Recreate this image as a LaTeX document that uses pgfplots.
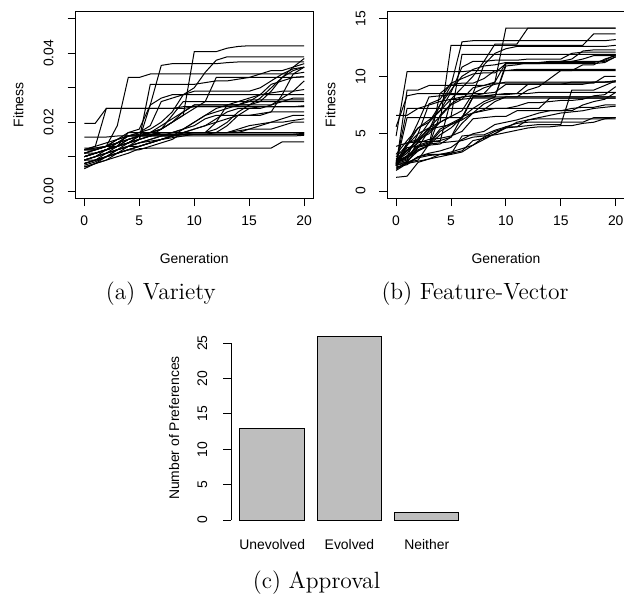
\documentclass[border=0pt]{standalone}
\usepackage{fontspec}
\newfontfamily\rfont{Liberation Sans}
\usepackage{pgfplots}
\usepackage{pgfplotstable}
\pgfplotsset{compat=1.18}
\definecolor{rgrey}{HTML}{BEBEBE}
\newcommand\rf{\rfont\fontsize{6.95}{8}\selectfont}

% fitness per generation, one row per run (Variety)
\pgfplotstableread{
s 0 1 2 3 4 5 6 7 8 9 10 11 12 13 14 15 16 17 18 19 20
a1 0.0120 0.0120 0.0130 0.0190 0.0330 0.0330 0.0340 0.0340 0.0340 0.0340 0.0340 0.0340 0.0340 0.0340 0.0340 0.0340 0.0340 0.0340 0.0340 0.0340 0.0345
a2 0.0100 0.0110 0.0120 0.0130 0.0140 0.0160 0.0170 0.0180 0.0200 0.0220 0.0405 0.0405 0.0405 0.0415 0.0420 0.0422 0.0422 0.0422 0.0422 0.0422 0.0422
a3 0.0110 0.0120 0.0130 0.0150 0.0170 0.0180 0.0250 0.0365 0.0370 0.0370 0.0370 0.0370 0.0370 0.0373 0.0375 0.0375 0.0375 0.0375 0.0375 0.0375 0.0375
a4 0.0090 0.0100 0.0120 0.0140 0.0160 0.0170 0.0180 0.0200 0.0230 0.0280 0.0300 0.0345 0.0380 0.0390 0.0390 0.0390 0.0390 0.0390 0.0390 0.0390 0.0390
a5 0.0080 0.0090 0.0110 0.0130 0.0150 0.0160 0.0165 0.0170 0.0170 0.0170 0.0170 0.0170 0.0180 0.0200 0.0230 0.0250 0.0270 0.0300 0.0330 0.0360 0.0385
a6 0.0120 0.0120 0.0130 0.0140 0.0160 0.0160 0.0160 0.0160 0.0170 0.0180 0.0200 0.0220 0.0240 0.0250 0.0250 0.0250 0.0260 0.0290 0.0330 0.0350 0.0360
a7 0.0197 0.0197 0.0240 0.0240 0.0240 0.0240 0.0240 0.0240 0.0240 0.0240 0.0245 0.0245 0.0245 0.0245 0.0245 0.0245 0.0245 0.0245 0.0245 0.0245 0.0245
a8 0.0120 0.0130 0.0240 0.0240 0.0240 0.0240 0.0240 0.0240 0.0240 0.0245 0.0245 0.0245 0.0245 0.0245 0.0245 0.0245 0.0245 0.0245 0.0245 0.0245 0.0248
a9 0.0157 0.0157 0.0157 0.0160 0.0160 0.0160 0.0160 0.0165 0.0165 0.0165 0.0165 0.0165 0.0165 0.0165 0.0165 0.0165 0.0165 0.0165 0.0165 0.0165 0.0165
a10 0.0065 0.0080 0.0090 0.0100 0.0110 0.0123 0.0125 0.0125 0.0125 0.0125 0.0125 0.0125 0.0125 0.0125 0.0125 0.0125 0.0125 0.0125 0.0143 0.0143 0.0143
a11 0.0070 0.0080 0.0090 0.0110 0.0120 0.0120 0.0130 0.0140 0.0150 0.0170 0.0170 0.0170 0.0170 0.0170 0.0170 0.0170 0.0170 0.0170 0.0170 0.0170 0.0170
a12 0.0080 0.0090 0.0100 0.0120 0.0130 0.0140 0.0150 0.0160 0.0160 0.0160 0.0160 0.0160 0.0160 0.0160 0.0160 0.0160 0.0160 0.0160 0.0160 0.0160 0.0162
a13 0.0100 0.0110 0.0120 0.0130 0.0150 0.0160 0.0165 0.0165 0.0165 0.0165 0.0170 0.0170 0.0170 0.0170 0.0180 0.0190 0.0195 0.0200 0.0200 0.0205 0.0210
a14 0.0090 0.0100 0.0110 0.0120 0.0130 0.0130 0.0140 0.0150 0.0160 0.0180 0.0200 0.0220 0.0230 0.0240 0.0250 0.0250 0.0250 0.0250 0.0260 0.0270 0.0270
a15 0.0110 0.0120 0.0130 0.0140 0.0150 0.0160 0.0170 0.0190 0.0210 0.0230 0.0250 0.0250 0.0250 0.0250 0.0250 0.0260 0.0280 0.0310 0.0320 0.0330 0.0332
a16 0.0100 0.0110 0.0120 0.0130 0.0140 0.0150 0.0160 0.0170 0.0170 0.0170 0.0170 0.0170 0.0200 0.0250 0.0260 0.0270 0.0280 0.0285 0.0290 0.0290 0.0295
a17 0.0120 0.0130 0.0140 0.0150 0.0160 0.0160 0.0170 0.0170 0.0170 0.0180 0.0190 0.0210 0.0220 0.0220 0.0220 0.0220 0.0225 0.0230 0.0230 0.0230 0.0230
a18 0.0080 0.0090 0.0100 0.0110 0.0120 0.0130 0.0140 0.0150 0.0155 0.0160 0.0165 0.0165 0.0170 0.0170 0.0170 0.0180 0.0190 0.0200 0.0210 0.0220 0.0220
a19 0.0110 0.0110 0.0120 0.0140 0.0160 0.0170 0.0190 0.0260 0.0270 0.0280 0.0290 0.0290 0.0290 0.0290 0.0290 0.0290 0.0300 0.0320 0.0340 0.0355 0.0360
a20 0.0090 0.0100 0.0110 0.0120 0.0140 0.0150 0.0160 0.0180 0.0200 0.0230 0.0250 0.0250 0.0250 0.0250 0.0250 0.0265 0.0265 0.0265 0.0265 0.0265 0.0265
a21 0.0100 0.0110 0.0120 0.0130 0.0170 0.0170 0.0170 0.0180 0.0220 0.0260 0.0260 0.0260 0.0260 0.0260 0.0260 0.0260 0.0260 0.0260 0.0260 0.0260 0.0260
a22 0.0075 0.0085 0.0100 0.0120 0.0130 0.0140 0.0150 0.0160 0.0160 0.0165 0.0165 0.0165 0.0165 0.0165 0.0165 0.0165 0.0165 0.0165 0.0165 0.0165 0.0165
a23 0.0120 0.0125 0.0130 0.0150 0.0160 0.0165 0.0170 0.0170 0.0170 0.0170 0.0170 0.0170 0.0170 0.0170 0.0175 0.0180 0.0180 0.0180 0.0190 0.0200 0.0200
a24 0.0090 0.0100 0.0110 0.0120 0.0130 0.0140 0.0145 0.0150 0.0160 0.0170 0.0170 0.0170 0.0170 0.0190 0.0220 0.0240 0.0245 0.0245 0.0245 0.0245 0.0245
a25 0.0110 0.0120 0.0130 0.0130 0.0140 0.0150 0.0250 0.0270 0.0280 0.0280 0.0280 0.0280 0.0280 0.0280 0.0280 0.0280 0.0280 0.0280 0.0280 0.0280 0.0280
a26 0.0100 0.0110 0.0120 0.0130 0.0140 0.0160 0.0170 0.0180 0.0200 0.0220 0.0240 0.0260 0.0330 0.0330 0.0330 0.0330 0.0330 0.0330 0.0330 0.0330 0.0332
a27 0.0080 0.0090 0.0100 0.0110 0.0120 0.0130 0.0140 0.0150 0.0160 0.0170 0.0180 0.0190 0.0200 0.0210 0.0220 0.0220 0.0220 0.0230 0.0280 0.0340 0.0360
a28 0.0125 0.0125 0.0130 0.0140 0.0150 0.0160 0.0160 0.0160 0.0160 0.0165 0.0165 0.0165 0.0165 0.0165 0.0165 0.0165 0.0165 0.0165 0.0165 0.0165 0.0168
a29 0.0070 0.0080 0.0100 0.0110 0.0120 0.0130 0.0140 0.0150 0.0160 0.0170 0.0180 0.0190 0.0210 0.0230 0.0240 0.0240 0.0240 0.0250 0.0270 0.0290 0.0320
a30 0.0100 0.0110 0.0120 0.0130 0.0140 0.0150 0.0160 0.0170 0.0170 0.0170 0.0170 0.0170 0.0170 0.0170 0.0170 0.0170 0.0170 0.0170 0.0170 0.0170 0.0170
a31 0.0090 0.0090 0.0100 0.0110 0.0130 0.0150 0.0310 0.0310 0.0310 0.0310 0.0310 0.0315 0.0320 0.0320 0.0325 0.0330 0.0340 0.0350 0.0350 0.0360 0.0370
}\rawA
\pgfplotstabletranspose[colnames from=s]{\tabA}{\rawA}

% fitness per generation, one row per run (Feature-Vector)
\pgfplotstableread{
s 0 1 2 3 4 5 6 7 8 9 10 11 12 13 14 15 16 17 18 19 20
b1 2.4 7.2 7.2 7.2 7.2 7.2 7.2 7.2 7.2 7.2 7.2 7.2 7.2 7.2 8.1 8.1 8.1 8.1 8.1 8.1 8.1
b2 2.3 6.4 6.4 6.4 6.4 6.4 6.4 8.2 8.2 8.2 8.2 8.2 8.2 8.2 8.2 8.2 8.2 8.2 8.2 8.2 8.2
b3 2.5 2.8 3.8 4.1 5.2 5.8 6.3 8.2 8.2 8.4 8.5 8.5 9.3 9.3 9.3 9.3 9.3 9.3 9.5 9.5 9.6
b4 2.6 3.0 3.9 4.2 5.4 5.9 6.4 8.2 8.2 8.2 11.1 11.1 11.1 11.1 11.1 11.1 11.1 11.1 11.1 11.2 11.7
b5 2.2 2.6 3.5 4.0 6.6 7.6 8.2 8.3 8.5 9.5 11.2 11.2 11.2 11.2 11.2 11.2 11.3 11.3 11.3 11.3 11.7
b6 4.8 10.4 10.4 10.4 10.4 10.4 10.4 10.5 10.5 10.5 10.5 10.5 10.5 10.5 10.5 10.5 10.5 10.5 10.5 10.5 10.5
b7 2.0 2.5 3.8 5.3 7.5 9.2 13.0 13.1 13.1 13.1 13.1 13.1 13.1 13.1 13.1 13.1 13.1 13.1 13.1 13.1 13.2
b8 2.4 2.7 4.3 5.2 6.0 12.7 12.7 12.7 12.7 12.7 12.7 12.7 12.7 12.7 12.7 12.7 12.7 12.7 13.7 13.7 13.7
b9 2.8 3.5 4.5 5.5 6.5 7.5 8.0 9.0 9.2 9.5 14.2 14.2 14.2 14.2 14.2 14.2 14.2 14.2 14.2 14.2 14.2
b10 2.6 4.0 5.5 6.0 7.0 8.0 9.0 10.0 11.3 12.8 12.8 12.8 14.2 14.2 14.2 14.2 14.2 14.2 14.2 14.2 14.2
b11 1.2 1.3 2.5 2.8 3.0 3.2 3.4 4.0 4.5 5.0 5.5 5.6 5.7 5.8 5.8 5.8 8.8 8.8 8.8 9.2 9.6
b12 1.8 2.4 2.6 2.8 3.2 3.3 3.5 4.4 4.6 5.0 5.6 5.9 6.0 6.0 6.0 6.0 6.0 6.0 6.4 6.4 6.4
b13 2.3 2.4 3.0 3.3 3.5 3.8 4.5 5.0 5.2 5.8 6.0 6.2 6.5 6.8 7.0 7.0 7.2 7.3 7.3 7.5 7.5
b14 2.5 3.5 4.2 4.5 4.6 4.8 5.2 6.3 6.4 6.5 6.5 7.0 7.0 7.0 7.0 7.0 7.0 7.5 7.8 8.0 8.6
b15 3.0 4.0 5.0 5.5 6.0 6.5 7.0 8.5 9.0 9.3 9.5 9.5 9.5 9.5 9.5 9.5 9.5 9.5 9.5 9.5 9.6
b16 5.6 8.3 8.5 8.5 8.5 8.5 8.5 8.5 8.5 8.6 9.3 9.3 9.3 9.3 9.3 9.3 9.5 9.5 9.5 9.5 9.5
b17 2.2 8.8 8.8 9.2 9.2 9.2 9.2 9.2 9.2 9.4 9.4 9.4 9.4 9.4 9.4 9.4 9.4 9.4 9.4 10.0 10.0
b18 2.4 3.0 5.0 7.6 8.0 9.4 9.8 10.2 10.3 10.3 11.1 11.1 11.1 11.1 11.2 11.3 11.3 11.5 11.8 11.8 11.8
b19 2.6 3.3 4.6 6.0 7.5 8.8 10.0 10.6 10.9 11.0 11.2 11.2 11.2 11.2 11.2 11.2 11.2 11.2 11.2 11.4 11.9
b20 3.2 4.4 5.5 6.2 7.0 8.6 10.8 11.3 11.3 11.4 11.4 11.4 11.5 11.5 11.5 11.5 12.0 12.1 12.1 12.1 12.1
b21 6.6 6.6 7.2 7.5 7.8 8.0 8.2 8.3 8.3 8.4 8.4 8.5 8.5 8.6 8.6 8.6 8.6 8.6 8.6 8.6 8.6
b22 2.4 2.5 2.7 4.1 4.2 4.3 4.4 4.7 4.8 4.9 5.1 5.3 5.5 5.6 5.6 5.7 5.7 5.9 6.0 6.3 6.3
b23 2.3 3.8 3.9 4.0 4.1 4.7 5.9 6.8 7.1 7.8 8.2 8.2 8.8 9.1 9.8 10.5 10.5 11.0 11.0 11.5 11.8
b24 2.1 2.3 3.0 3.2 3.2 3.2 4.8 4.9 4.9 5.3 5.6 5.6 6.2 6.3 6.3 6.3 6.3 6.3 6.3 6.3 6.4
b25 2.7 3.0 4.0 4.3 4.3 8.0 8.0 8.1 8.1 8.1 8.1 8.1 8.1 8.1 8.1 8.1 8.1 8.1 8.1 8.1 8.1
b26 3.9 4.2 4.5 5.0 6.0 6.5 11.9 11.9 11.9 11.9 11.9 11.9 11.9 11.9 11.9 11.9 11.9 11.9 11.9 11.9 11.9
b27 2.5 2.9 3.5 4.0 8.5 9.3 9.4 9.4 9.8 10.5 10.5 10.6 10.6 10.6 10.6 10.6 10.6 10.6 10.6 10.6 10.6
b28 2.4 3.1 3.6 4.0 4.9 5.5 6.4 7.2 7.8 8.2 10.9 11.0 11.2 11.2 11.3 11.3 11.5 12.2 12.3 12.3 12.3
b29 2.5 4.2 4.3 4.3 4.4 4.7 6.5 6.8 7.0 7.2 7.2 7.4 7.7 7.7 7.8 7.9 7.9 8.0 8.3 8.4 9.1
b30 2.6 3.6 4.4 5.4 5.6 5.8 6.2 6.8 7.6 8.0 8.2 8.2 8.2 8.2 8.2 8.2 8.2 8.2 8.2 8.2 8.2
b31 2.2 4.0 6.0 8.2 8.3 8.4 8.4 8.5 11.0 12.0 12.4 12.6 12.6 12.6 12.6 12.6 12.6 12.6 12.6 12.6 12.7
b32 1.9 2.5 2.9 3.1 3.2 3.4 3.7 4.0 4.7 5.2 5.5 6.0 6.2 6.4 6.6 6.8 6.9 7.0 7.2 7.3 7.4
}\rawB
\pgfplotstabletranspose[colnames from=s]{\tabB}{\rawB}

\pgfplotsset{
  rplot/.style={
    scale only axis, anchor=south west,
    axis line style={line width=0.5pt},
    tick style={black, line width=0.5pt},
    major tick length=4pt, tick align=outside,
    xtick pos=bottom, ytick pos=left,
    scaled ticks=false,
    tick label style={font=\rf},
    /pgf/number format/assume math mode=true,
    xticklabel style={anchor=base},
    every axis x label/.style={at={(axis description cs:0.5,0)}, anchor=base, yshift=-32.5pt, font=\rf},
    every axis y label/.style={at={(axis description cs:0,0.5)}, xshift=-26pt, rotate=90, anchor=base, font=\rf},
  },
  run/.style={black, line width=0.5pt, mark=none},
}

\begin{document}
\begin{tikzpicture}
% (a) Variety
\begin{axis}[rplot, at={(37.75pt,204pt)}, width=118.75pt, height=93pt,
  xmin=-0.8, xmax=20.8, ymin=-0.002, ymax=0.052,
  xtick={0,5,10,15,20}, ytick={0,0.01,0.02,0.03,0.04,0.05},
  yticklabels={0.00,,0.02,,0.04,},
  xticklabel style={yshift=-9.9pt},
  yticklabel style={xshift=-7pt, rotate=90, anchor=base},
  xlabel={Generation}, ylabel={Fitness}]
\pgfplotsinvokeforeach{1,...,31}{\addplot[run] table[x=colnames, y=a#1]{\tabA};}
\end{axis}
% (b) Feature-Vector
\begin{axis}[rplot, at={(193.65pt,204pt)}, width=118.6pt, height=93pt,
  xmin=-0.8, xmax=20.8, ymin=-0.6, ymax=15.6,
  xtick={0,5,10,15,20}, ytick={0,5,10,15},
  xticklabel style={yshift=-9.9pt},
  yticklabel style={xshift=-7pt, rotate=90, anchor=base},
  xlabel={Generation}, ylabel={Fitness}]
\pgfplotsinvokeforeach{1,...,32}{\addplot[run] table[x=colnames, y=b#1]{\tabB};}
\end{axis}
% (c) Approval
\begin{axis}[rplot, at={(115.6pt,39.3pt)}, width=118.25pt, height=99.3pt,
  xmin=0.064, xmax=3.736, ymin=-1.04, ymax=27.04,
  axis line style={draw=none}, clip=false,
  xtick={0.7,1.9,3.1}, xticklabels={Unevolved,Evolved,Neither},
  xtick style={draw=none},
  xticklabel style={yshift=-7pt},
  yticklabel style={xshift=-8pt, rotate=90, anchor=base},
  ytick={0,5,10,15,20,25},
  ylabel={Number of Preferences},
  every axis y label/.style={at={(axis description cs:0,0.5)}, xshift=-26pt, rotate=90, anchor=base, font=\rf}]
\addplot[ybar, bar width=1, bar shift=0pt, fill=rgrey, draw=black, line width=0.5pt]
  coordinates {(0.7,13) (1.9,26) (3.1,1)};
\addplot[black, line width=0.5pt] coordinates {(0.064,0) (0.064,25)};
\end{axis}
\fontsize{11.75}{14}\selectfont
\node[anchor=base] at (80.4pt,153.5pt) {(a) Variety};
\node[anchor=base] at (237.5pt,153.5pt) {(b) Feature-Vector};
\node[anchor=base] at (158.25pt,9pt) {(c) Approval};
\pgfresetboundingbox
\path[use as bounding box] (0,0) rectangle (312pt,303pt);
\end{tikzpicture}
\end{document}
